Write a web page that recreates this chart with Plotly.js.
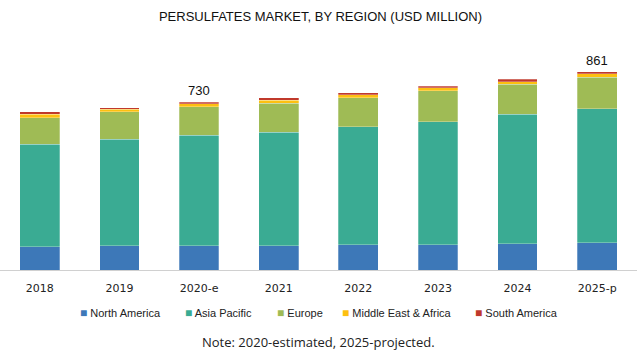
<!DOCTYPE html>
<html>
<head>
<meta charset="utf-8">
<script src="https://cdn.plot.ly/plotly-3.0.1.min.js"></script>
<style>html,body{margin:0;padding:0;background:#fff;}#chart{width:641px;height:358px;}</style>
</head>
<body>
<div id="chart"></div>
<script>
const categories = ["2018", "2019", "2020-e", "2021", "2022", "2023", "2024", "2025-p"];
const northAmerica = [101, 105, 105, 105, 109, 109, 114, 119];
const asiaPacific = [445, 463, 480, 493, 513, 536, 564, 583];
const europe = [117, 120, 125, 126, 127, 135, 130, 135];
const middleEastAfrica = [15, 10, 12, 15, 12, 13, 11, 17];
const southAmerica = [9, 7, 8, 9, 9, 7, 10, 7];
const labeledCategories = ["2020-e", "2025-p"];
const labeledTotals = [730, 861];

const seriesNames = ["North America", "Asia Pacific", "Europe", "Middle East & Africa", "South America"];
const seriesValues = [northAmerica, asiaPacific, europe, middleEastAfrica, southAmerica];
const colors = ["#3d78b8", "#3aab93", "#9fbb55", "#fdc010", "#c0392b"];
// legend entry left edges as fraction of plot width (layout only)
const legendX = [0.122, 0.287, 0.431, 0.533, 0.743];

const traces = seriesNames.map((name, i) => ({
  type: "bar",
  name: name,
  x: categories,
  y: seriesValues[i],
  marker: { color: colors[i], line: { color: "rgba(255,255,255,0.45)", width: 0.6 } },
  hoverinfo: "x+y+name",
  showlegend: false
}));

const annotations = labeledCategories.map((c, k) => ({
  x: c, y: labeledTotals[k], xref: "x", yref: "y",
  text: String(labeledTotals[k]), showarrow: false,
  yanchor: "bottom", yshift: 2,
  font: { family: "Liberation Sans, Arial, sans-serif", size: 13, color: "#111" }
}));
seriesNames.forEach((name, i) => {
  annotations.push({
    x: legendX[i], y: 0, xref: "paper", yref: "paper", xanchor: "left", yanchor: "middle",
    yshift: -43, showarrow: false,
    text: '<span style="color:' + colors[i] + ';font-size:12px">■</span> ' + name,
    font: { family: "Liberation Sans, Arial, sans-serif", size: 11, color: "#222" }
  });
});
annotations.push({
  x: 0.5, y: 0, xref: "paper", yref: "paper", yanchor: "middle",
  yshift: -72, showarrow: false,
  text: "Note: 2020-estimated, 2025-projected.",
  font: { family: "Open Sans, DejaVu Sans, sans-serif", size: 13, color: "#222" }
});

const layout = {
  width: 641, height: 358,
  margin: { l: 0, r: 4, t: 40, b: 88 },
  paper_bgcolor: "#fff", plot_bgcolor: "#fff",
  title: { text: "PERSULFATES MARKET, BY REGION (USD MILLION)", x: 0.5, xanchor: "center", y: 0.955, yanchor: "middle",
           font: { family: "Liberation Sans Narrow, Arial Narrow, Liberation Sans, sans-serif", size: 13, color: "#111" } },
  barmode: "stack",
  bargap: 0.5,
  xaxis: { type: "category", showline: true, linecolor: "#d0d0d0", linewidth: 1, ticks: "", showgrid: false,
           ticklabelstandoff: 8,
           tickfont: { family: "DejaVu Sans, Verdana, sans-serif", size: 11, color: "#222" } },
  yaxis: { range: [0, 1000], visible: false, showgrid: false, zeroline: false },
  showlegend: false,
  annotations: annotations
};

Plotly.newPlot("chart", traces, layout, { displayModeBar: false, staticPlot: true });
</script>
</body>
</html>
